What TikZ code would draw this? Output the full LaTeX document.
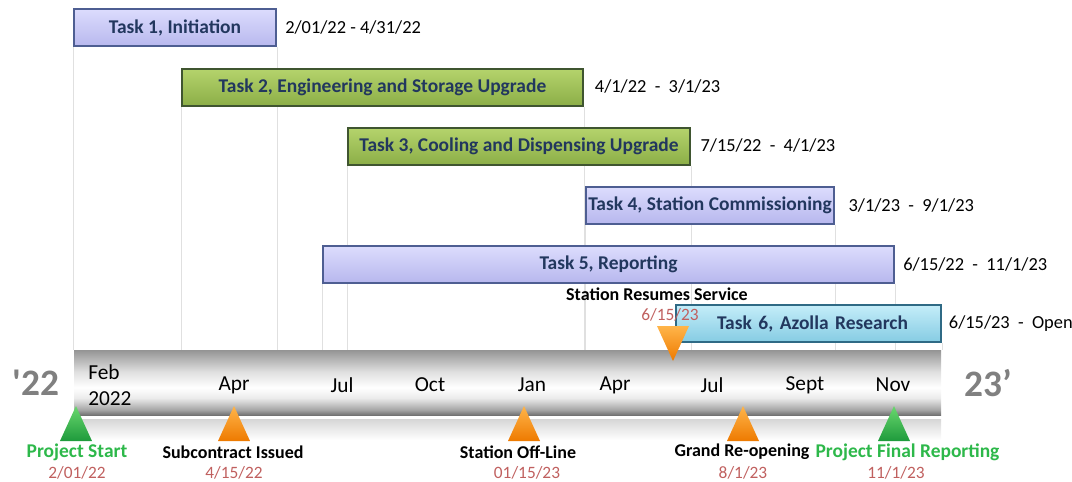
\documentclass[tikz,border=0pt]{standalone}
\usepackage{fontspec}
\setmainfont{Carlito}
\newfontfamily\yrfont{Carlito}[Ligatures=TeXOff]
\usetikzlibrary{positioning,backgrounds}

\definecolor{taskText}{HTML}{22375E}
\definecolor{lavTop}{HTML}{DCDCFD}
\definecolor{lavBot}{HTML}{B8B8EE}
\definecolor{lavLine}{HTML}{4E5E92}
\definecolor{grnTop}{HTML}{B5D46C}
\definecolor{grnBot}{HTML}{8CAE47}
\definecolor{grnLine}{HTML}{3F5530}
\definecolor{bluTop}{HTML}{C4EDF9}
\definecolor{bluBot}{HTML}{86CCE3}
\definecolor{bluLine}{HTML}{2F6A85}
\definecolor{dateRed}{HTML}{C0605F}
\definecolor{msGreen}{HTML}{2DB84A}
\definecolor{oraTop}{HTML}{FFB54A}
\definecolor{oraBot}{HTML}{EE7A00}
\definecolor{triGrnTop}{HTML}{6AD86E}
\definecolor{triGrnBot}{HTML}{1E9A3C}

\pgfdeclareverticalshading{barshade}{100bp}{color(0bp)=(black!55); color(25bp)=(black!55);
  color(29bp)=(black!35); color(38bp)=(black!8); color(46bp)=(white); color(58bp)=(black!12);
  color(75bp)=(black!42); color(100bp)=(black!42)}

\newcommand\taskfont{\fontsize{14.6}{17}\selectfont\bfseries}
\newcommand\spanfont{\fontsize{13.8}{16}\selectfont}
\newcommand\monthfont{\fontsize{16}{19}\selectfont}
\newcommand\msfont{\fontsize{13.5}{15}\selectfont\bfseries}
\newcommand\msgfont{\fontsize{14.6}{16}\selectfont\bfseries}
\newcommand\msdatefont{\fontsize{13}{15}\selectfont}

\tikzset{
	task/.style={draw, line width=1.5pt, text=taskText, font=\taskfont, inner sep=0pt, minimum height=27.75pt},
	lavbox/.style={task, draw=lavLine, top color=lavTop, bottom color=lavBot},
	grnbox/.style={task, draw=grnLine, top color=grnTop, bottom color=grnBot},
	blubox/.style={task, draw=bluLine, top color=bluTop, bottom color=bluBot},
	span/.style={font=\spanfont, inner sep=0pt},
	gridline/.style={draw=black!12, line width=0.75pt},
	month/.style={font=\monthfont, inner sep=0pt},
	yr/.style={font=\fontsize{28}{30}\selectfont\bfseries\yrfont, text=black!50, inner sep=0pt},
	mslabel/.style={font=\msfont, inner sep=0pt},
	msgreen/.style={font=\msgfont, text=msGreen, inner sep=0pt},
	msdate/.style={font=\msdatefont, text=dateRed, inner sep=0pt},
	orangetri/.style={top color=oraTop, bottom color=oraBot},
	greentri/.style={top color=triGrnTop, bottom color=triGrnBot}
}

\begin{document}
\begin{tikzpicture}[x=0.75pt, y=-0.75pt]
	\useasboundingbox (0,0) rectangle (1072,482);

	% tasks
	\node[lavbox, minimum width=151.5pt] (t1) at (175,27.5) {Task 1, Initiation};
	\node[grnbox, minimum width=300.75pt] (t2) at (382.5,87) {Task 2, Engineering and Storage Upgrade};
	\node[grnbox, minimum width=256.5pt] (t3) at (519,146) {Task 3, Cooling and Dispensing Upgrade};
	\node[lavbox, minimum width=186pt] (t4) at (710,205) {Task 4, Station Commissioning};
	\node[lavbox, minimum width=428.25pt] (t5) at (608.5,264) {Task 5, Reporting};
	\node[blubox, text width=149.25pt, inner xsep=24.75pt, align=right] (t6) at (808.5,323.5) {Task 6, Azolla Research};

	\node[span, right=6pt of t1] (s1) {2/01/22 - 4/31/22};
	\node[span, right=8pt of t2] (s2) {4/1/22 \ - \ 3/1/23};
	\node[span, right=7pt of t3] (s3) {7/15/22 \ - \ 4/1/23};
	\node[span, right=10pt of t4] (s4) {3/1/23 \ - \ 9/1/23};
	\node[span, right=6pt of t5] (s5) {6/15/22 \ - \ 11/1/23};
	\node[span, right=5pt of t6] (s6) {6/15/23 \ - \ Open};

	% time line
	\node[shading=barshade, minimum width=650.25pt, minimum height=48.75pt, inner sep=0pt] (bar) at (507.5,382.5) {};
	\shade[top color=black!16, bottom color=white] (74,419) rectangle (941,440);

	\begin{scope}[on background layer]
		\foreach \b in {t1, t2, t3, t4, t5, t6}
		{
			\draw[gridline] (\b.south west) -- (\b.south west |- bar.north);
			\draw[gridline] (\b.south east) -- (\b.south east |- bar.north);
		}
	\end{scope}

	\node[yr] (y22) at (36,383) {'22};
	\node[yr] (y23) at (988,383) {23’};
	\node[month, anchor=west, align=left] (feb) at (88,385) {Feb\\2022};
	\foreach \x/\m in {234/Apr, 342/Jul, 430/Oct, 532/Jan, 615/Apr, 712/Jul, 805/Sept, 893/Nov}
		\node[month] (m\x) at (\x,385) {\m};

	% milestones
	\node[mslabel] (r6) at (657,294) {Station Resumes Service};
	\node[msdate] (d6) at (670,315) {6/15/23};
	\coordinate (p6) at (673,361);
	\shade[orangetri] (p6) -- ++(-16,-35) -- ++(32,0) -- cycle;

	\foreach \x/\sty in {76/greentri, 234/orangetri, 524/orangetri, 743/orangetri, 894/greentri}
	{
		\coordinate (p\x) at (\x,406);
		\shade[\sty] (p\x) -- ++(16,35) -- ++(-32,0) -- cycle;
	}

	\node[msgreen] (l1) at (77,452) {Project Start};
	\node[msdate] (d1) at (77,473) {2/01/22};
	\node[mslabel] (l2) at (233,452) {Subcontract Issued};
	\node[msdate] (d2) at (234,473) {4/15/22};
	\node[mslabel] (l3) at (518,452) {Station Off-Line};
	\node[msdate] (d3) at (527,473) {01/15/23};
	\node[mslabel] (l4) at (742,452) {Grand Re-opening};
	\node[msdate] (d4) at (743,473) {8/1/23};
	\node[msgreen] (l5) at (907.5,452) {Project Final Reporting};
	\node[msdate] (d5) at (896,473) {11/1/23};
\end{tikzpicture}
\end{document}
